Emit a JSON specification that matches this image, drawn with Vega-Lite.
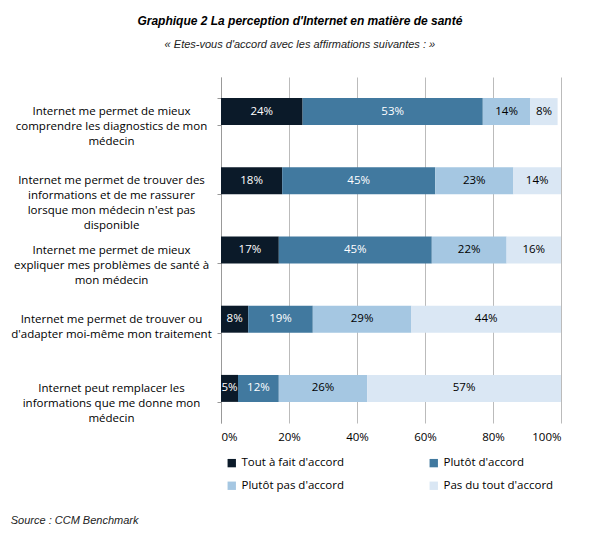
{
  "$schema": "https://vega.github.io/schema/vega-lite/v6.json",
  "background": "white",
  "padding": {"left": 10, "top": 15, "right": 10, "bottom": 5},
  "title": {"text": "Source : CCM Benchmark", "orient": "bottom", "anchor": "start", "frame": "bounds",
    "font": "Liberation Sans", "fontSize": 11, "fontStyle": "italic", "fontWeight": "normal", "color": "#222", "offset": 18},
  "config": {
    "view": {"stroke": null},
    "font": "Open Sans"
  },
  "vconcat": [
    {
      "width": 340,
      "height": 346,
      "title": {
        "text": "Graphique 2 La perception d'Internet en matière de santé",
        "subtitle": "« Etes-vous d'accord avec les affirmations suivantes : »",
        "font": "Liberation Sans", "fontSize": 12, "fontStyle": "italic", "fontWeight": "bold", "color": "black",
        "subtitleFont": "Liberation Sans", "subtitleFontSize": 11, "subtitleFontStyle": "italic", "subtitleColor": "#222",
        "subtitlePadding": 11, "anchor": "middle", "frame": "bounds", "offset": 20, "dx": 14
      },
      "data": {"values": [
        {"q": "Internet me permet de mieux\ncomprendre les diagnostics de mon\nmédecin", "cat": "Tout à fait d'accord", "ord": 1, "value": 24},
        {"q": "Internet me permet de mieux\ncomprendre les diagnostics de mon\nmédecin", "cat": "Plutôt d'accord", "ord": 2, "value": 53},
        {"q": "Internet me permet de mieux\ncomprendre les diagnostics de mon\nmédecin", "cat": "Plutôt pas d'accord", "ord": 3, "value": 14},
        {"q": "Internet me permet de mieux\ncomprendre les diagnostics de mon\nmédecin", "cat": "Pas du tout d'accord", "ord": 4, "value": 8},
        {"q": "Internet me permet de trouver des\ninformations et de me rassurer\nlorsque mon médecin n'est pas\ndisponible", "cat": "Tout à fait d'accord", "ord": 1, "value": 18},
        {"q": "Internet me permet de trouver des\ninformations et de me rassurer\nlorsque mon médecin n'est pas\ndisponible", "cat": "Plutôt d'accord", "ord": 2, "value": 45},
        {"q": "Internet me permet de trouver des\ninformations et de me rassurer\nlorsque mon médecin n'est pas\ndisponible", "cat": "Plutôt pas d'accord", "ord": 3, "value": 23},
        {"q": "Internet me permet de trouver des\ninformations et de me rassurer\nlorsque mon médecin n'est pas\ndisponible", "cat": "Pas du tout d'accord", "ord": 4, "value": 14},
        {"q": "Internet me permet de mieux\nexpliquer mes problèmes de santé à\nmon médecin", "cat": "Tout à fait d'accord", "ord": 1, "value": 17},
        {"q": "Internet me permet de mieux\nexpliquer mes problèmes de santé à\nmon médecin", "cat": "Plutôt d'accord", "ord": 2, "value": 45},
        {"q": "Internet me permet de mieux\nexpliquer mes problèmes de santé à\nmon médecin", "cat": "Plutôt pas d'accord", "ord": 3, "value": 22},
        {"q": "Internet me permet de mieux\nexpliquer mes problèmes de santé à\nmon médecin", "cat": "Pas du tout d'accord", "ord": 4, "value": 16},
        {"q": "Internet me permet de trouver ou\nd'adapter moi-même mon traitement", "cat": "Tout à fait d'accord", "ord": 1, "value": 8},
        {"q": "Internet me permet de trouver ou\nd'adapter moi-même mon traitement", "cat": "Plutôt d'accord", "ord": 2, "value": 19},
        {"q": "Internet me permet de trouver ou\nd'adapter moi-même mon traitement", "cat": "Plutôt pas d'accord", "ord": 3, "value": 29},
        {"q": "Internet me permet de trouver ou\nd'adapter moi-même mon traitement", "cat": "Pas du tout d'accord", "ord": 4, "value": 44},
        {"q": "Internet peut remplacer les\ninformations que me donne mon\nmédecin", "cat": "Tout à fait d'accord", "ord": 1, "value": 5},
        {"q": "Internet peut remplacer les\ninformations que me donne mon\nmédecin", "cat": "Plutôt d'accord", "ord": 2, "value": 12},
        {"q": "Internet peut remplacer les\ninformations que me donne mon\nmédecin", "cat": "Plutôt pas d'accord", "ord": 3, "value": 26},
        {"q": "Internet peut remplacer les\ninformations que me donne mon\nmédecin", "cat": "Pas du tout d'accord", "ord": 4, "value": 57}
      ]},
      "transform": [
        {"stack": "value", "groupby": ["q"], "sort": [{"field": "ord", "order": "ascending"}], "as": ["v0", "v1"]},
        {"calculate": "(datum.v0 + datum.v1) / 2", "as": "mid"},
        {"calculate": "datum.value + '%'", "as": "lbl"}
      ],
      "encoding": {
        "y": {
          "field": "q", "type": "nominal", "sort": null, "title": null,
          "scale": {"paddingInner": 0.61, "paddingOuter": 0.305},
          "axis": {
            "labelExpr": "isString(datum.value) ? split(datum.value, '\\n') : ''",
            "labelAlign": "center", "labelBaseline": "middle", "labelPadding": 106,
            "labelFont": "Open Sans", "labelFontSize": 11.5, "labelColor": "black", "labelLineHeight": 15,
            "labelLimit": 300,
            "tickBand": "extent", "tickSize": 4, "tickColor": "#999", "domainColor": "#999"
          }
        }
      },
      "layer": [
        {
          "mark": {"type": "bar"},
          "encoding": {
            "x": {"field": "v0", "type": "quantitative", "scale": {"domain": [0, 100]}, "title": null,
              "axis": {"values": [0, 20, 40, 60, 80, 100], "labelExpr": "datum.value + '%'", "domain": false, "ticks": false,
                "grid": true, "gridColor": "#bbb", "labelFont": "Open Sans", "labelFontSize": 11.5, "labelColor": "black", "labelPadding": 8}},
            "x2": {"field": "v1"},
            "color": {
              "field": "cat", "type": "nominal", "sort": null, "title": null,
              "scale": {"domain": ["Tout à fait d'accord", "Plutôt d'accord", "Plutôt pas d'accord", "Pas du tout d'accord"],
                "range": ["#0b1a29", "#41799f", "#a5c7e2", "#dae7f4"]},
              "legend": {"orient": "bottom", "columns": 2, "columnPadding": 83, "rowPadding": 10, "symbolType": "square",
                "symbolSize": 70, "labelFont": "Open Sans", "labelFontSize": 11.5, "labelColor": "black", "offset": 9, "padding": 5, "symbolStrokeWidth": 0}
            }
          }
        },
        {
          "mark": {"type": "text", "font": "Open Sans", "fontSize": 11.5},
          "encoding": {
            "x": {"field": "mid", "type": "quantitative"},
            "text": {"field": "lbl", "type": "nominal"},
            "color": {"condition": {"test": "datum.ord <= 2", "value": "white"}, "value": "black"}
          }
        }
      ]
    }
  ]
}
